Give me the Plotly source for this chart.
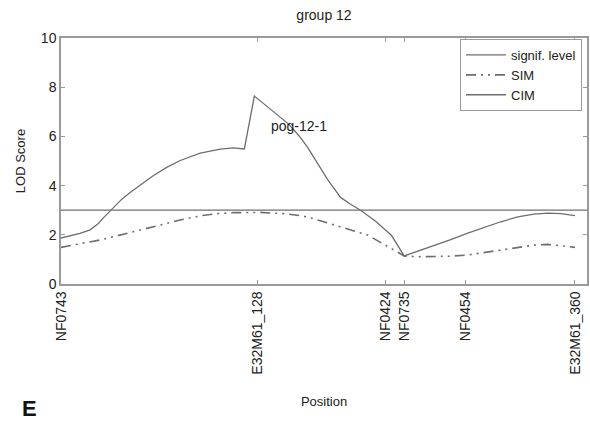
import plotly.graph_objects as go

# Marker names and positions (cM-like units along the linkage group)
marker_names = ["NF0743", "E32M61_128", "NF0424", "NF0735", "NF0454", "E32M61_360"]
marker_pos = [0.0, 19.6, 32.4, 34.25, 40.4, 51.3]

# CIM profile
cim_x = [0.0, 0.9, 1.9, 2.9, 3.7, 4.3, 4.9, 5.5, 6.1, 6.9, 7.9, 9.2, 10.6, 11.9, 13.9,
         15.9, 17.2, 18.3,
         19.3, 20.1, 20.9, 21.8, 22.6, 23.3, 23.9, 24.6, 25.2, 25.9, 26.6, 27.3, 27.9,
         28.9, 29.9, 31.4, 32.4, 33.0, 34.25,
         35.4, 37.2, 38.9, 40.6, 42.2, 43.9, 45.6, 47.2, 48.6, 49.9, 51.3]
cim_y = [1.87, 1.95, 2.06, 2.2, 2.45, 2.72, 2.97, 3.22, 3.46, 3.72, 4.02, 4.4, 4.75, 5.02, 5.32,
         5.48, 5.53, 5.49,
         7.64, 7.38, 7.1, 6.82, 6.54, 6.24, 5.95, 5.56, 5.16, 4.7, 4.25, 3.86, 3.52,
         3.24, 3.0, 2.55, 2.17, 1.97, 1.14,
         1.3, 1.54, 1.8, 2.07, 2.3, 2.53, 2.73, 2.84, 2.88, 2.86, 2.78]

# SIM profile
sim_x = [0.0, 1.9, 3.9, 5.6, 7.2, 8.9, 10.6, 12.2, 13.9, 15.6, 17.2, 19.9, 22.2, 23.9,
         24.9, 26.1, 27.2, 28.9, 30.6, 32.2, 34.25, 35.7, 37.2, 38.9, 40.6, 42.2, 43.9,
         45.6, 47.2, 48.6, 49.9, 51.3]
sim_y = [1.49, 1.63, 1.79, 1.96, 2.13, 2.3, 2.47, 2.63, 2.77, 2.86, 2.9, 2.91, 2.86, 2.78,
         2.69, 2.54, 2.39, 2.2, 1.99, 1.62, 1.14, 1.11, 1.11, 1.13, 1.18, 1.27, 1.38,
         1.49, 1.58, 1.61, 1.56, 1.49]

# Significance threshold
x_range = [0.0, 52.5]
sig_level = 3.0

# QTL label
qtl_label = "pog-12-1"
qtl_x = 23.8
qtl_y = 6.42

line_col = "#6e6e6e"
axis_col = "#9a9a9a"
font_fam = "Liberation Sans, Arial, Helvetica, sans-serif"

fig = go.Figure()
fig.add_trace(go.Scatter(x=x_range, y=[sig_level, sig_level], mode="lines",
                         name="signif. level", line=dict(color=line_col, width=1.3)))
fig.add_trace(go.Scatter(x=sim_x, y=sim_y, mode="lines", name="SIM",
                         line=dict(color=line_col, width=1.6,
                                   dash="10px,5px,2px,5px,2px,5px")))
fig.add_trace(go.Scatter(x=cim_x, y=cim_y, mode="lines", name="CIM",
                         line=dict(color=line_col, width=1.3)))

fig.add_annotation(x=qtl_x, y=qtl_y, text=qtl_label, showarrow=False,
                   font=dict(size=14, color="#222", family=font_fam))
fig.add_annotation(x=-0.059, y=-0.508, xref="paper", yref="paper", text="<b>E</b>",
                   xanchor="center", yanchor="middle",
                   showarrow=False, font=dict(size=22, color="#111", family=font_fam))

fig.update_layout(
    width=590, height=432,
    margin=dict(l=61, r=3, t=38, b=148),
    paper_bgcolor="white", plot_bgcolor="white",
    font=dict(family=font_fam, size=13, color="#222"),
    title=dict(text="group 12", x=0.5, xref="paper", xanchor="center",
               y=0.965, yanchor="middle", font=dict(size=14)),
    showlegend=True,
    legend=dict(x=0.9905, y=0.996, xanchor="right", yanchor="top",
                bgcolor="white", bordercolor=axis_col, borderwidth=1,
                font=dict(size=13), tracegroupgap=0, itemwidth=40,
                entrywidth=154, traceorder="normal"),
    xaxis=dict(range=x_range, tickvals=marker_pos, ticktext=marker_names,
               tickangle=-90, ticks="inside", ticklen=4, tickcolor=axis_col,
               showline=True, linecolor=axis_col, linewidth=1.5, mirror="ticks",
               showgrid=False, zeroline=False, automargin=False,
               title=dict(text="Position", standoff=23, font=dict(size=13)),
               tickfont=dict(size=14)),
    yaxis=dict(range=[0, 10], dtick=2, ticks="inside", ticklen=4, tickcolor=axis_col,
               showline=True, linecolor=axis_col, linewidth=1.5, mirror="ticks",
               showgrid=False, zeroline=False, automargin=False,
               title=dict(text="LOD Score", standoff=12, font=dict(size=13)),
               tickfont=dict(size=14)),
)

fig.write_html("out.html", config={"displayModeBar": False},
               post_script="document.body.style.margin='0px';document.body.style.overflow='hidden';")
